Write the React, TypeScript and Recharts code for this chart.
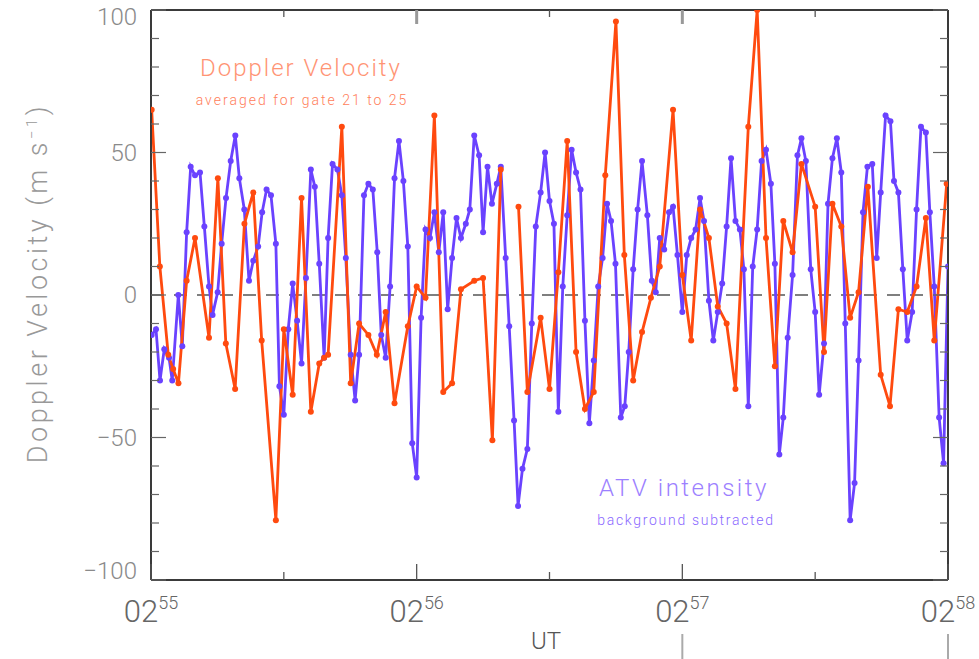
import { LineChart, Line, XAxis, YAxis, ReferenceLine } from "recharts";

// seconds after 02:55 UT
const atvTimes = [
  0.15, 1.13, 2.03, 3.0, 4.07, 4.8, 6.17, 7.07, 8.05, 8.96, 9.94, 11.07, 12.05, 13.1, 13.9, 15.06,
  15.96, 16.94, 18.0, 19.04, 19.95, 21.07, 22.13, 23.1, 24.2, 25.1, 26.1, 27.1, 28.2, 29.0, 30.0,
  31.0, 32.0, 33.0, 34.0, 35.0, 36.1, 37.0, 38.0, 39.1, 40.0, 41.0, 42.1, 43.1, 44.0, 45.1, 46.1,
  47.0, 48.1, 49.1, 50.1, 51.1, 52.0, 53.0, 54.0, 55.0, 56.0, 57.0, 58.0, 59.0, 60.0, 61.0, 62.0,
  63.0, 64.0, 65.0, 66.0, 67.0, 68.0, 69.0, 70.0, 71.1, 72.0, 73.0, 74.1, 75.0, 76.0, 77.0, 78.1,
  79.0, 80.1, 80.9, 82.0, 82.9, 83.9, 85.0, 86.0, 86.9, 88.0, 89.0, 90.0, 91.0, 92.0, 93.0, 94.0,
  95.0, 96.0, 97.0, 98.0, 99.0, 100.0, 101.0, 102.0, 103.0, 103.9, 104.9, 106.1, 107.0, 107.9,
  108.9, 109.9, 110.9, 112.1, 113.1, 114.0, 114.9, 115.9, 117.0, 117.9, 118.9, 120.0, 121.0, 122.0,
  123.0, 124.0, 124.9, 126.0, 127.0, 128.0, 129.0, 130.0, 131.0, 132.0, 133.0, 133.9, 134.9, 135.9,
  136.9, 137.9, 138.9, 140.0, 140.9, 141.9, 142.8, 143.8, 144.9, 146.0, 146.9, 147.9, 149.0, 150.0,
  150.9, 152.0, 152.9, 153.9, 154.9, 155.9, 156.8, 157.9, 158.9, 159.8, 160.8, 161.8, 162.9, 163.9,
  164.8, 165.9, 167.0, 167.8, 168.8, 169.8, 170.8, 171.9, 172.9, 173.9, 175.0, 175.9, 176.9, 178.0,
  179.0, 180.0,
];
const atvValues = [
  -14, -12, -30, -19, -22, -30, 0, -18, 22, 45, 42, 43, 24, 3, -7, 1,
  18, 34, 47, 56, 41, 30, 5, 12, 17, 29, 37, 35, 18, -32, -42,
  -12, 4, -9, -24, 6, 44, 38, 11, -22, 20, 46, 44, 35, 13, -21, -37,
  -21, 35, 39, 37, 15, -14, -22, 3, 41, 54, 40, 17, -52, -64, -8, 23,
  20, 29, 15, 29, -5, 13, 27, 20, 25, 30, 56, 49, 22, 45, 32, 39,
  45, 13, -11, -44, -74, -61, -54, -10, 24, 36, 50, 33, 25, -41, 3, 28,
  51, 43, 37, -9, -45, -23, 3, 13, 32, 26, 11, -43, -39, -20,
  9, 30, 47, 28, 5, 1, 20, 16, 29, 31, 14, -6, 14, 20,
  23, 34, 26, -2, -16, -6, 4, 24, 48, 26, 23, 9, -39, 10,
  23, 47, 51, 39, 11, -56, -43, -15, 7, 49, 55, 47, 9, -6,
  -35, -17, 32, 48, 55, 43, -10, -79, -66, -23, 29, 45, 46, 13,
  36, 63, 61, 40, 36, 9, -16, -6, 30, 59, 57, 29, 3, -43,
  -59, 10,
];

const dopplerTimes = [
  0.15, 2.0, 3.9, 5.0, 6.2, 8.05, 9.94, 13.1, 15.1, 16.9, 19.0, 21.1, 23.1, 25.0, 28.2, 30.0,
  32.0, 34.0, 36.1, 38.0, 39.1, 40.0, 43.1, 45.1, 47.0, 49.1, 51.0, 53.0, 55.0, 58.0, 60.0, 62.0,
  64.0, 66.0, 68.0, 70.0, 73.0, 75.0, 77.1, 79.0, 81.0, 83.0, 85.0, 88.0, 90.0, 92.0, 94.0, 96.0,
  98.0, 100.0, 102.6, 105.0, 106.9, 108.9, 110.9, 112.9, 114.9, 117.9, 120.0, 122.0, 124.0, 126.0,
  128.0, 130.0, 132.0, 134.9, 136.9, 138.9, 140.9, 142.8, 144.9, 146.9, 150.0, 152.0, 153.9, 155.9,
  157.9, 159.8, 161.9, 164.8, 166.9, 168.8, 170.8, 172.9, 175.0, 176.9, 179.7,
];
// null = data gap
const dopplerValues = [
  65, 10, -21, -26, -31, 5, 20, -15, 41, -17, -33, 25, 36, -16, -79, -12,
  -35, 34, -41, -24, -22, -21, 59, -31, -10, -14, -21, -6, -38, -11, 3, -1,
  63, -34, -31, 2, 5, 6, -51, 44, null, 31, -34, -8, -33, 8, 54, -20,
  -40, -34, 42, 96, 14, -30, -13, -1, 10, 65, 7, -16, 30, 20,
  -4, -10, -33, 59, 100, 20, -25, 26, 15, 46, 31, -20, 32, 24,
  -8, 1, 38, -28, -39, -5, -6, 3, 27, -16, 39,
];

const yTicks = [-100, -90, -80, -70, -60, -50, -40, -30, -20, -10, 0, 10, 20, 30, 40, 50, 60, 70, 80, 90, 100];
const xTicks = [0, 30, 60, 90, 120, 150, 180];
const minuteLabels: Record<number, string> = { 0: "55", 60: "56", 120: "57", 180: "58" };

const ORANGE = "#ff4a0f";
const PURPLE = "#6a42ff";
const FRAME = "#3a3a3a";

const atvData = atvTimes.map((t, i) => ({ t, v: atvValues[i] }));
const dopplerData = dopplerTimes.map((t, i) => ({ t, v: dopplerValues[i] }));

function LeftTick({ x, y, payload }: any) {
  const v = payload.value as number;
  const major = v % 50 === 0;
  const dy = v === 100 ? 15 : v === -100 ? -1 : 8;
  return (
    <g>
      <line x1={x} y1={y} x2={x + (major ? 15 : 8)} y2={y} stroke="#666" strokeWidth={1.2} />
      {major && (
        <text x={x - 14} y={y + dy} textAnchor="end" fontFamily="Roboto" fontWeight={300} fontSize={24} fill="#8a8a8a">
          {v < 0 ? `\u2212${-v}` : v}
        </text>
      )}
    </g>
  );
}

function RightTick({ x, y, payload }: any) {
  const major = (payload.value as number) % 50 === 0;
  return <line x1={x} y1={y} x2={x - (major ? 15 : 8)} y2={y} stroke="#666" strokeWidth={1.2} />;
}

function BottomTick({ x, y, payload }: any) {
  const v = payload.value as number;
  const minute = v % 60 === 0;
  return (
    <g>
      <line x1={x} y1={y} x2={x} y2={y - (minute ? 16 : 8)} stroke="#555" strokeWidth={1.3} />
      {minute && (
        <text x={x} y={y + 42} textAnchor="middle" fontFamily="Roboto" fontWeight={300} fontSize={31} fill="#666">
          02
          <tspan dy={-13} fontSize={18}>{minuteLabels[v]}</tspan>
        </text>
      )}
      {(v === 120 || v === 180) && (
        <line x1={x} y1={y + 54} x2={x} y2={y + 79} stroke="#aaa" strokeWidth={2} />
      )}
    </g>
  );
}

function TopTick({ x, y, payload }: any) {
  const v = payload.value as number;
  if (v === 0 || v === 180) return <g />;
  const minute = v % 60 === 0;
  return minute ? (
    <line x1={x} y1={y} x2={x} y2={y + 14} stroke="#999" strokeWidth={3} />
  ) : (
    <line x1={x} y1={y} x2={x} y2={y + 7} stroke="#555" strokeWidth={1.3} />
  );
}

export default function App() {
  return (
    <div style={{ position: "absolute", left: 0, top: 0, width: 979, height: 659, background: "#fff" }}>
      <LineChart width={979} height={659} margin={{ top: 0, right: 0, bottom: 0, left: 0 }}>
        <XAxis
          type="number"
          dataKey="t"
          domain={[0, 180]}
          ticks={xTicks}
          height={79}
          tickSize={0}
          tickMargin={0}
          tickLine={false}
          tick={BottomTick}
          axisLine={{ stroke: FRAME, strokeWidth: 2 }}
          allowDataOverflow
        />
        <XAxis
          xAxisId="top"
          orientation="top"
          type="number"
          dataKey="t"
          domain={[0, 180]}
          ticks={xTicks}
          height={10}
          tickSize={0}
          tickMargin={0}
          tickLine={false}
          tick={TopTick}
          axisLine={{ stroke: FRAME, strokeWidth: 2 }}
          allowDataOverflow
        />
        <YAxis
          type="number"
          domain={[-100, 100]}
          ticks={yTicks}
          width={151}
          tickSize={0}
          tickMargin={0}
          tickLine={false}
          tick={LeftTick}
          axisLine={{ stroke: FRAME, strokeWidth: 2 }}
          interval={0}
          allowDataOverflow
        />
        <YAxis
          yAxisId="right"
          orientation="right"
          type="number"
          domain={[-100, 100]}
          ticks={yTicks}
          width={31}
          tickSize={0}
          tickMargin={0}
          tickLine={false}
          tick={RightTick}
          axisLine={{ stroke: FRAME, strokeWidth: 2 }}
          interval={0}
          allowDataOverflow
        />
        <ReferenceLine y={0} stroke="#555" strokeWidth={1.3} strokeDasharray="13 10" />
        <Line
          data={atvData}
          dataKey="v"
          type="linear"
          stroke={PURPLE}
          strokeWidth={2.8}
          dot={{ r: 3, fill: PURPLE, stroke: PURPLE, strokeWidth: 0 }}
          isAnimationActive={false}
        />
        <Line
          data={dopplerData}
          dataKey="v"
          type="linear"
          stroke={ORANGE}
          strokeWidth={2.8}
          dot={{ r: 3, fill: ORANGE, stroke: ORANGE, strokeWidth: 0 }}
          connectNulls={false}
          isAnimationActive={false}
        />
      </LineChart>

      {/* annotations */}
      <div style={{ ...label, left: 301, top: 68, fontSize: 24, letterSpacing: 2, color: "#ff9474" }}>Doppler Velocity</div>
      <div style={{ ...label, left: 302, top: 100, fontSize: 14, letterSpacing: 2, color: "#ff7e5a" }}>
        averaged for gate 21 to 25
      </div>
      <div style={{ ...label, left: 684, top: 488, fontSize: 24, letterSpacing: 2.5, color: "#9c80ff" }}>ATV intensity</div>
      <div style={{ ...label, left: 686, top: 520, fontSize: 14, letterSpacing: 1.7, color: "#8a68ff" }}>
        background subtracted
      </div>
      <div style={{ ...label, left: 546, top: 641, fontSize: 24, color: "#555" }}>UT</div>
      <div
        style={{
          ...label,
          left: 38,
          top: 283,
          fontSize: 27,
          letterSpacing: 3.5,
          color: "#999",
          transform: "translate(-50%, -50%) rotate(-90deg)",
        }}
      >
        Doppler Velocity (m s<sup style={{ fontSize: 15 }}>{"\u22121"}</sup>)
      </div>
    </div>
  );
}

const label: React.CSSProperties = {
  position: "absolute",
  transform: "translate(-50%, -50%)",
  whiteSpace: "nowrap",
  fontFamily: "Roboto, sans-serif",
  fontWeight: 300,
  lineHeight: 1,
};
